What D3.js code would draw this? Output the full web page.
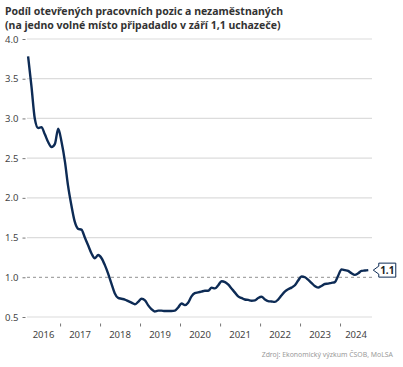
<!DOCTYPE html>
<html><head><meta charset="utf-8">
<script src="https://cdn.jsdelivr.net/npm/d3@7"></script>
<style>body{margin:0;background:#fff}svg{display:block}</style>
</head><body>
<script>
const startMonth = "2016-03";
const v2016 = [3.78, 3.40, 3.00, 2.88, 2.89, 2.80, 2.70, 2.64, 2.68, 2.87];
const v2017 = [2.70, 2.45, 2.15, 1.90, 1.70, 1.61, 1.60, 1.50, 1.40, 1.30, 1.24, 1.28];
const v2018 = [1.24, 1.15, 1.05, 0.92, 0.80, 0.74, 0.73, 0.72, 0.70, 0.68, 0.66, 0.69];
const v2019 = [0.73, 0.71, 0.65, 0.60, 0.57, 0.58, 0.58, 0.575, 0.575, 0.575, 0.58, 0.62];
const v2020 = [0.67, 0.65, 0.68, 0.76, 0.80, 0.81, 0.82, 0.83, 0.83, 0.87, 0.86, 0.90];
const v2021 = [0.95, 0.94, 0.91, 0.86, 0.81, 0.76, 0.74, 0.72, 0.715, 0.705, 0.71, 0.74];
const v2022 = [0.755, 0.72, 0.70, 0.695, 0.69, 0.72, 0.77, 0.82, 0.85, 0.87, 0.90, 0.96];
const v2023 = [1.01, 1.00, 0.97, 0.93, 0.89, 0.87, 0.89, 0.915, 0.92, 0.93, 0.94, 1.02];
const v2024 = [1.10, 1.09, 1.08, 1.05, 1.03, 1.05, 1.08, 1.085, 1.09];
const yTicks = [0.5, 1.0, 1.5, 2.0, 2.5, 3.0, 3.5, 4.0];
const yearLabels = ["2016","2017","2018","2019","2020","2021","2022","2023","2024"];
const refLevel = 1.0;
const lastLabel = "1.1";
const title1 = "Podíl otevřených pracovních pozic a nezaměstnaných";
const title2 = "(na jedno volné místo připadadlo v září 1,1 uchazeče)";
const source = "Zdroj: Ekonomický výzkum ČSOB, MoLSA";

const values = [].concat(v2016, v2017, v2018, v2019, v2020, v2021, v2022, v2023, v2024);
const [sy, sm] = startMonth.split("-").map(Number);
const data = values.map((v, i) => ({date: new Date(sy, sm - 1 + i, 15), v}));

const W = 403, H = 367;
const svg = d3.select("body").append("svg").attr("width", W).attr("height", H);
const font = "'Noto Sans', 'Open Sans', sans-serif";

const x = d3.scaleTime().domain([new Date(2016, 2, 5), new Date(2024, 9, 19)]).range([27, 372]);
const y = d3.scaleLinear().domain([0.5, 4.0]).range([317, 39]);

// title
svg.append("text").attr("x", 5).attr("y", 15).text(title1)
  .attr("font-family", font).attr("font-weight", "bold").attr("font-size", 10.5).attr("fill", "#333");
svg.append("text").attr("x", 5).attr("y", 29).text(title2)
  .attr("font-family", font).attr("font-weight", "bold").attr("font-size", 10.5).attr("fill", "#333");

// gridlines
svg.append("g").selectAll("line").data(yTicks.filter(t => t !== refLevel)).join("line")
  .attr("x1", 27).attr("x2", 372).attr("y1", d => y(d)).attr("y2", d => y(d))
  .attr("stroke", "#dcdcdc").attr("stroke-width", 1.2);
svg.append("line").attr("x1", 27).attr("x2", 372).attr("y1", y(refLevel)).attr("y2", y(refLevel))
  .attr("stroke", "#a6a6a6").attr("stroke-width", 1.3).attr("stroke-dasharray", "3,3");

// y axis
const yAxis = d3.axisLeft(y).tickValues(yTicks).tickFormat(d3.format(".1f")).tickSize(3).tickPadding(4);
const gy = svg.append("g").attr("transform", "translate(25.5,0)").call(yAxis);
gy.select(".domain").remove();
gy.selectAll(".tick line").attr("stroke", "#777");
gy.selectAll("text").attr("font-family", font).attr("font-size", 9.5).attr("fill", "#444");

// x axis ticks at year starts
const yearStarts = yearLabels.slice(1).map(s => new Date(+s, 0, 1));
const xAxis = d3.axisBottom(x).tickValues(yearStarts).tickSize(3).tickFormat("");
const gx = svg.append("g").attr("transform", "translate(0,323.5)").call(xAxis);
gx.select(".domain").remove();
gx.selectAll(".tick line").attr("stroke", "#777");
// year labels centred in visible span
const [d0, d1] = x.domain();
svg.append("g").selectAll("text").data(yearLabels).join("text")
  .attr("x", s => {
    const a = Math.max(+new Date(+s, 0, 1), +d0), b = Math.min(+new Date(+s + 1, 0, 1), +d1);
    return (x(new Date(a)) + x(new Date(b))) / 2;
  })
  .attr("y", 338).attr("text-anchor", "middle").text(s => s)
  .attr("font-family", font).attr("font-size", 9.5).attr("fill", "#444");

// line
const line = d3.line().x(d => x(d.date)).y(d => y(d.v)).curve(d3.curveMonotoneX);
svg.append("path").datum(data).attr("d", line).attr("fill", "none")
  .attr("stroke", "#0d2b55").attr("stroke-width", 2.4).attr("stroke-linejoin", "round");

// callout
const last = data[data.length - 1];
const tipX = x(last.date) + 5, cy = y(last.v);
const bx = tipX + 5.5, bw = 17, bh = 14;
svg.append("path")
  .attr("d", `M${tipX},${cy} L${bx},${cy - 4} L${bx},${cy - bh / 2} L${bx + bw},${cy - bh / 2} L${bx + bw},${cy + bh / 2} L${bx},${cy + bh / 2} L${bx},${cy + 4} Z`)
  .attr("fill", "#fff").attr("stroke", "#0d2b55").attr("stroke-width", 1);
svg.append("text").attr("x", bx + bw / 2).attr("y", cy + 3.5).attr("text-anchor", "middle").text(lastLabel)
  .attr("font-family", font).attr("font-weight", "bold").attr("font-size", 10).attr("fill", "#222");

// source
svg.append("text").attr("x", 393).attr("y", 357).attr("text-anchor", "end").text(source)
  .attr("font-family", font).attr("font-size", 6.9).attr("fill", "#9a9a9a");
</script>
</body></html>
